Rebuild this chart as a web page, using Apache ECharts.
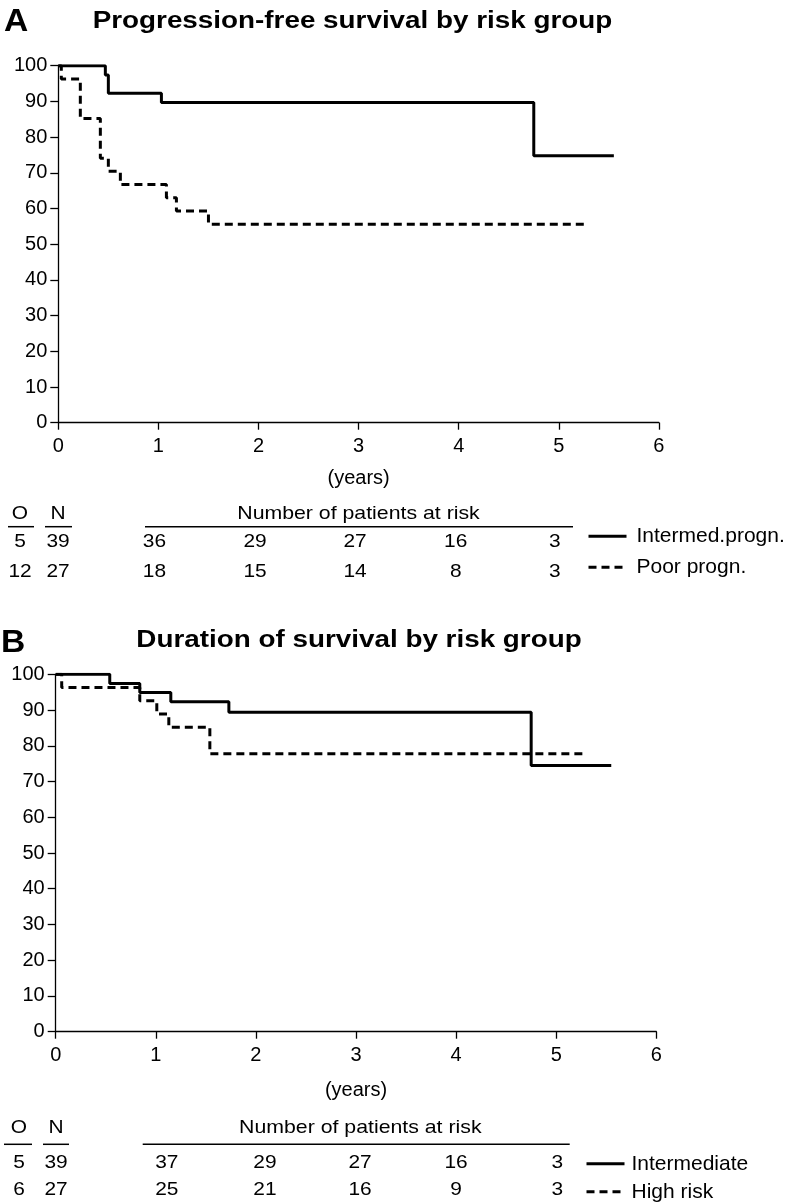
<!DOCTYPE html>
<html>
<head>
  <meta charset="utf-8">
  <title>Survival by risk group</title>
  <style>
    body { margin: 0; background: #fff; }
    #main { width: 794px; height: 1204px; }
  </style>
</head>
<body>
  <div id="main"></div>
  <script type="text/javascript" src="https://cdn.jsdelivr.net/npm/echarts@6/dist/echarts.min.js"></script>
  <script type="text/javascript">
    // panel A: progression-free survival (years, % free)
    const pfsIntermedX = [0, 0.47, 0.50, 1.03, 4.75, 5.55];
    const pfsIntermedY = [100, 97.4, 92.3, 89.7, 74.8, 74.8];
    const pfsPoorX = [0, 0.03, 0.22, 0.42, 0.50, 0.62, 1.08, 1.18, 1.50, 5.28];
    const pfsPoorY = [100, 96.3, 85.2, 74.1, 70.4, 66.7, 63.0, 59.3, 55.6, 55.6];

    // panel B: duration of survival
    const osIntermedX = [0, 0.54, 0.84, 1.15, 1.73, 4.75, 5.55];
    const osIntermedY = [100, 97.4, 94.9, 92.3, 89.4, 74.5, 74.5];
    const osHighX = [0, 0.06, 0.84, 1.01, 1.13, 1.54, 5.30];
    const osHighY = [100, 96.3, 92.6, 88.9, 85.2, 77.8, 77.8];

    // number at risk at 1..5 years, plus O (events) and N (patients)
    const riskYears = [1, 2, 3, 4, 5];
    const pfsRiskIntermed = [36, 29, 27, 16, 3];
    const pfsRiskPoor = [18, 15, 14, 8, 3];
    const osRiskIntermed = [37, 29, 27, 16, 3];
    const osRiskHigh = [25, 21, 16, 9, 3];
    const pfsON = [[5, 39], [12, 27]];
    const osON = [[5, 39], [6, 27]];

    const pfsNames = ['Intermed.progn.', 'Poor progn.'];
    const osNames = ['Intermediate', 'High risk'];
    const titles = ['Progression-free survival by risk group', 'Duration of survival by risk group'];

    const FONT = '"Liberation Sans", Arial, Helvetica, sans-serif';
    const DASH = [8, 5];

    function pairs(xs, ys) {
      return xs.map(function (x, i) { return [x, ys[i]]; });
    }

    function axisPair(gi, nameGap) {
      return {
        x: {
          gridIndex: gi, type: 'value', min: 0, max: 6, interval: 1,
          name: '(years)', nameLocation: 'middle', nameGap: nameGap,
          nameTextStyle: { color: '#000', fontSize: 20, fontFamily: FONT },
          axisLine: { lineStyle: { color: '#000', width: 1.3 } },
          axisTick: { length: 7, lineStyle: { color: '#000', width: 1.3 } },
          axisLabel: { color: '#000', fontSize: 20, fontFamily: FONT, margin: 14 },
          splitLine: { show: false }
        },
        y: {
          gridIndex: gi, type: 'value', min: 0, max: 100, interval: 10,
          axisLine: { show: true, lineStyle: { color: '#000', width: 1.3 } },
          axisTick: { show: true, length: 8, lineStyle: { color: '#000', width: 1.3 } },
          axisLabel: { color: '#000', fontSize: 20, fontFamily: FONT, margin: 11 },
          splitLine: { show: false }
        }
      };
    }

    function km(name, gi, data, dashed) {
      return {
        name: name, type: 'line', step: 'end',
        xAxisIndex: gi, yAxisIndex: gi,
        data: data, symbol: 'none', animation: false,
        lineStyle: { color: '#000', width: 3, type: dashed ? DASH : 'solid', cap: 'butt' },
        itemStyle: { color: '#000' }
      };
    }

    function legendBox(names, left, top, gap, textGap) {
      return {
        data: names, orient: 'vertical', left: left, top: top, padding: 0,
        itemWidth: 38, itemHeight: 14, itemGap: gap,
        itemStyle: { opacity: 0 },
        lineStyle: { width: 3 },
        textStyle: { color: '#000', fontSize: 21, fontFamily: FONT, padding: [0, 0, 0, textGap], lineHeight: 20 },
        selectedMode: false
      };
    }

    const a = axisPair(0, 46);
    const b = axisPair(1, 49);

    const chart = echarts.init(document.getElementById('main'));
    chart.setOption({
      animation: false,
      grid: [
        { left: 58.3, top: 65.7, width: 600.6, height: 357 },
        { left: 55.7, top: 674.3, width: 600.6, height: 357.4 }
      ],
      xAxis: [a.x, b.x],
      yAxis: [a.y, b.y],
      legend: [legendBox(pfsNames, 587, 525.7, 10, 5), legendBox(osNames, 585, 1153.3, 7, 2)],
      series: [
        km(pfsNames[0], 0, pairs(pfsIntermedX, pfsIntermedY), false),
        km(pfsNames[1], 0, pairs(pfsPoorX, pfsPoorY), true),
        km(osNames[0], 1, pairs(osIntermedX, osIntermedY), false),
        km(osNames[1], 1, pairs(osHighX, osHighY), true)
      ]
    });

    // text and rules around the plots
    function txt(x, y, s, size, align, bold, sx) {
      return {
        type: 'text', x: x, y: y, scaleX: sx || 1, silent: true,
        style: {
          text: String(s), x: 0, y: 0, align: align, verticalAlign: 'middle',
          fontSize: size, fontFamily: FONT, fontWeight: bold ? 'bold' : 'normal', fill: '#000'
        }
      };
    }
    function rule(x1, x2, y) {
      return {
        type: 'line', silent: true,
        shape: { x1: x1, y1: y, x2: x2, y2: y },
        style: { stroke: '#000', lineWidth: 1.5 }
      };
    }

    function riskTable(gi, on, rows, colShift, L) {
      const out = [];
      out.push(txt(L.oX, L.headY, 'O', 19, 'center', false, 1.1));
      out.push(txt(L.nX, L.headY, 'N', 19, 'center', false, 1.1));
      out.push(rule(L.oRule[0], L.oRule[1], L.ruleY));
      out.push(rule(L.nRule[0], L.nRule[1], L.ruleY));
      out.push(txt(L.headX, L.headY, 'Number of patients at risk', 19, 'center', false, 1.12));
      out.push(rule(L.bigRule[0], L.bigRule[1], L.ruleY));
      rows.forEach(function (vals, r) {
        const y = L.rowY[r];
        out.push(txt(L.oX, y, on[r][0], 19, 'center', false, 1.1));
        out.push(txt(L.nX, y, on[r][1], 19, 'center', false, 1.1));
        vals.forEach(function (v, i) {
          const px = chart.convertToPixel({ xAxisIndex: gi }, riskYears[i]) + colShift[i];
          out.push(txt(px, y, v, 19, 'center', false, 1.1));
        });
      });
      return out;
    }

    const graphics = [];
    graphics.push(txt(4, 22, 'A', 32, 'left', true, 1.05));
    graphics.push(txt(352.5, 22, titles[0], 23, 'center', true, 1.21));
    graphics.push(txt(1, 643, 'B', 32, 'left', true, 1.05));
    graphics.push(txt(359, 641, titles[1], 23, 'center', true, 1.21));

    riskTable(0, pfsON, [pfsRiskIntermed, pfsRiskPoor], [-4, -3.5, -3.5, -3, -4], {
      oX: 20, nX: 58, headY: 513.5, headX: 358.5, ruleY: 526.7,
      oRule: [8, 34], nRule: [45, 72], bigRule: [145, 573], rowY: [541.7, 571.7]
    }).forEach(function (g) { graphics.push(g); });

    riskTable(1, osON, [osRiskIntermed, osRiskHigh], [11, 9, 4, 0, 1], {
      oX: 19, nX: 56, headY: 1128, headX: 360.3, ruleY: 1144.3,
      oRule: [4, 32], nRule: [43, 69], bigRule: [142.7, 569.7], rowY: [1163, 1190]
    }).forEach(function (g) { graphics.push(g); });

    chart.setOption({ graphic: graphics });
  </script>
</body>
</html>
